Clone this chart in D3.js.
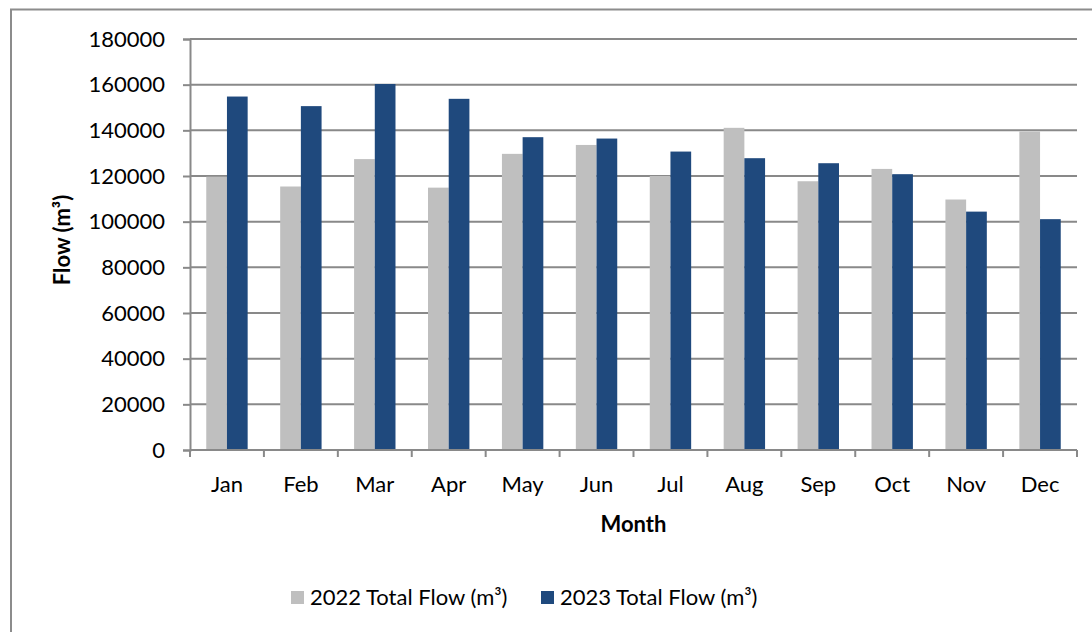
<!DOCTYPE html>
<html>
<head>
<meta charset="utf-8">
<script src="https://cdn.jsdelivr.net/npm/d3@7"></script>
<style>
  body { margin: 0; background: #fff; }
  svg text { font-family: Lato, "Open Sans", sans-serif; fill: #000; }
</style>
</head>
<body>
<div id="chartDiv"></div>
<script>
var months = ["Jan", "Feb", "Mar", "Apr", "May", "Jun", "Jul", "Aug", "Sep", "Oct", "Nov", "Dec"];
var flow2022 = [119700, 115400, 127400, 114900, 129700, 133600, 120000, 141100, 117700, 123100, 109700, 139500];
var flow2023 = [154800, 150600, 160300, 153800, 137000, 136400, 130700, 127800, 125600, 120800, 104400, 101100];
var seriesNames = ["2022 Total Flow (m³)", "2023 Total Flow (m³)"];
var seriesColors = ["#bfbfbf", "#1f497d"];
var yTicks = [0, 20000, 40000, 60000, 80000, 100000, 120000, 140000, 160000, 180000];

var width = 1092, height = 632;
var margin = { left: 190, right: 15, top: 39, bottom: 182 };

var svg = d3.select("#chartDiv").append("svg")
    .attr("width", width)
    .attr("height", height);

// outer chart border (top and left visible)
svg.append("path")
    .attr("d", "M11,640 L11,9.5 L1100,9.5")
    .attr("fill", "none")
    .attr("stroke", "#8c8c8c")
    .attr("stroke-width", 2);

var x = d3.scaleBand()
    .domain(months)
    .range([margin.left, width - margin.right])
    .paddingInner(0.44)
    .paddingOuter(0.22);

var xSub = d3.scaleBand()
    .domain([0, 1])
    .range([0, x.bandwidth()]);

var y = d3.scaleLinear()
    .domain([0, 180000])
    .range([height - margin.bottom, margin.top]);

// gridlines
svg.append("g")
    .selectAll("line")
    .data(yTicks.slice(1))
    .enter().append("line")
    .attr("x1", margin.left)
    .attr("x2", width - margin.right)
    .attr("y1", function (d) { return y(d); })
    .attr("y2", function (d) { return y(d); })
    .attr("stroke", "#898989")
    .attr("stroke-width", 2);

// bars
var rows = months.map(function (m, i) { return { month: m, vals: [flow2022[i], flow2023[i]] }; });

svg.append("g")
    .selectAll("g")
    .data(rows)
    .enter().append("g")
    .attr("transform", function (d) { return "translate(" + x(d.month) + ",0)"; })
    .selectAll("rect")
    .data(function (d) { return d.vals; })
    .enter().append("rect")
    .attr("x", function (d, i) { return xSub(i); })
    .attr("width", xSub.bandwidth())
    .attr("y", function (d) { return y(d); })
    .attr("height", function (d) { return y(0) - y(d); })
    .attr("fill", function (d, i) { return seriesColors[i]; });

// y axis
var yAxis = svg.append("g")
    .attr("transform", "translate(" + margin.left + ",0)")
    .call(d3.axisLeft(y).tickValues(yTicks).tickSize(7).tickPadding(18).tickFormat(d3.format("d")));
yAxis.selectAll("text").style("font-size", "22px");
yAxis.selectAll("line").attr("stroke", "#898989").attr("stroke-width", 2);
yAxis.select(".domain").attr("stroke", "#898989").attr("stroke-width", 2);

// x axis: ticks at category boundaries
var step = x.step();
var bounds = d3.range(months.length + 1).map(function (i) { return margin.left + i * step; });
var xAxis = svg.append("g");
xAxis.append("line")
    .attr("x1", margin.left).attr("x2", width - margin.right)
    .attr("y1", y(0)).attr("y2", y(0))
    .attr("stroke", "#898989").attr("stroke-width", 2);
xAxis.selectAll(".tk")
    .data(bounds)
    .enter().append("line")
    .attr("class", "tk")
    .attr("x1", function (d) { return d; }).attr("x2", function (d) { return d; })
    .attr("y1", y(0)).attr("y2", y(0) + 7)
    .attr("stroke", "#898989").attr("stroke-width", 2);
xAxis.selectAll("text")
    .data(months)
    .enter().append("text")
    .attr("x", function (d) { return x(d) + x.bandwidth() / 2; })
    .attr("y", 492)
    .attr("text-anchor", "middle")
    .style("font-size", "22px")
    .text(function (d) { return d; });

// axis titles
svg.append("text")
    .attr("x", (margin.left + width - margin.right) / 2)
    .attr("y", 532)
    .attr("text-anchor", "middle")
    .style("font-size", "22px")
    .style("font-weight", "bold")
    .text("Month");

svg.append("text")
    .attr("transform", "translate(70,240) rotate(-90)")
    .attr("text-anchor", "middle")
    .style("font-size", "22px")
    .style("font-weight", "bold")
    .text("Flow (m³)");

// legend
var legendX = [291, 541];
var legend = svg.append("g")
    .selectAll("g")
    .data(seriesNames)
    .enter().append("g")
    .attr("transform", function (d, i) { return "translate(" + legendX[i] + ",591)"; });
legend.append("rect")
    .attr("width", 13).attr("height", 13)
    .attr("fill", function (d, i) { return seriesColors[i]; });
legend.append("text")
    .attr("x", 19)
    .attr("y", 14)
    .style("font-size", "22px")
    .text(function (d) { return d; });
</script>
</body>
</html>
